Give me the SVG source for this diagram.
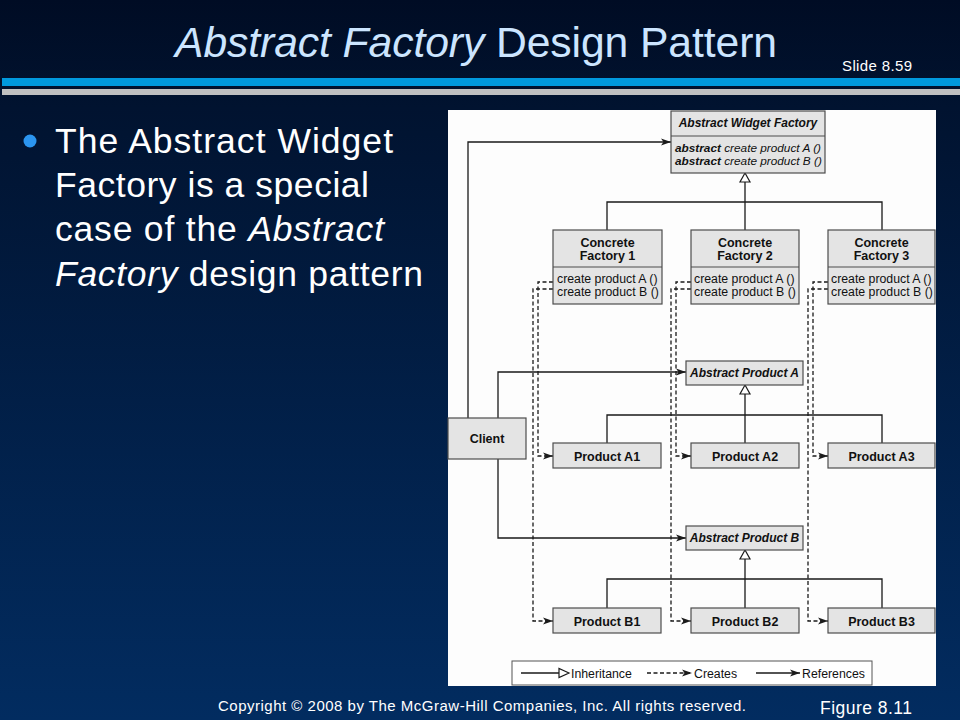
<svg xmlns="http://www.w3.org/2000/svg" width="960" height="720" viewBox="0 0 960 720">
<defs>
<linearGradient id="bg" x1="0" y1="0" x2="0" y2="1">
<stop offset="0" stop-color="#000c24"/>
<stop offset="0.15" stop-color="#011330"/>
<stop offset="1" stop-color="#022c60"/>
</linearGradient>
<marker id="arr" markerUnits="userSpaceOnUse" viewBox="0 0 10 8" refX="10" refY="4" markerWidth="10" markerHeight="8" orient="auto">
<path d="M0,0.5 L10,4 L0,7.5 L2.5,4 z" fill="#1a1a1a"/>
</marker>
<style>
.sans{font-family:"Liberation Sans",Arial,sans-serif}
.box{fill:#e4e4e4;stroke:#4d4d4d;stroke-width:1.2}
.ln{fill:none;stroke:#1a1a1a;stroke-width:1.3}
.dash{fill:none;stroke:#1a1a1a;stroke-width:1.3;stroke-dasharray:4 2.5}
.tri{fill:#ffffff;stroke:#1a1a1a;stroke-width:1.2}
.dt{font-family:"Liberation Sans",Arial,sans-serif;fill:#111}
.hd{font-size:12.5px;font-weight:bold;text-anchor:middle}
.hi{font-size:12px;font-weight:bold;font-style:italic;text-anchor:middle}
.m{font-size:12.3px}
.w{fill:#ffffff}
</style>
</defs>
<rect x="0" y="0" width="960" height="720" fill="url(#bg)"/>
<rect x="2" y="78" width="958" height="8" fill="#0099dd"/>
<rect x="2" y="89" width="958" height="6" fill="#c0c0c0"/>
<text class="sans" x="175" y="57" font-size="42.7" fill="#cce5ff" textLength="602"><tspan font-style="italic">Abstract Factory</tspan> Design Pattern</text>
<text class="sans w" x="842" y="71" font-size="15" textLength="70">Slide 8.59</text>
<circle cx="30" cy="141" r="6.5" fill="#2b95f0"/>
<g class="sans w" font-size="35.5">
<text x="55" y="153" textLength="338">The Abstract Widget</text>
<text x="55" y="197" textLength="314">Factory is a special</text>
<text x="55" y="241" textLength="329">case of the <tspan font-style="italic">Abstract</tspan></text>
<text x="55" y="286" textLength="368"><tspan font-style="italic">Factory</tspan> design pattern</text>
</g>
<rect x="448" y="110" width="488" height="576" fill="#fdfdfd"/>
<g id="connectors">
<polyline class="ln" points="468,418 468,142 671,142" marker-end="url(#arr)"/>
<polyline class="ln" points="498,418 498,372 686,372" marker-end="url(#arr)"/>
<polyline class="ln" points="498,459 498,538 686,538" marker-end="url(#arr)"/>
<polyline class="ln" points="745,182 745,230"/>
<polyline class="ln" points="607,230 607,202 882,202 882,230"/>
<polygon class="tri" points="745,173 740,182 750,182"/>
<polyline class="ln" points="745,394 745,443"/>
<polyline class="ln" points="607,443 607,415 882,415 882,443"/>
<polygon class="tri" points="745,385 740,394 750,394"/>
<polyline class="ln" points="745,559 745,608"/>
<polyline class="ln" points="607,608 607,579 882,579 882,608"/>
<polygon class="tri" points="745,550 740,559 750,559"/>
<polyline class="dash" points="553,282 538,282 538,456 553,456" marker-end="url(#arr)"/>
<polyline class="dash" points="553,289 533,289 533,621 553,621" marker-end="url(#arr)"/>
<polyline class="dash" points="691,282 676,282 676,456 691,456" marker-end="url(#arr)"/>
<polyline class="dash" points="691,289 671,289 671,621 691,621" marker-end="url(#arr)"/>
<polyline class="dash" points="828,282 813,282 813,456 828,456" marker-end="url(#arr)"/>
<polyline class="dash" points="828,289 808,289 808,621 828,621" marker-end="url(#arr)"/>
</g>
<g id="abstract-widget-factory">
<rect class="box" x="671" y="111" width="154" height="62"/>
<line class="box" x1="671" y1="136" x2="825" y2="136"/>
<text class="dt hi" x="748" y="127">Abstract Widget Factory</text>
<text class="dt" x="675" y="152" font-size="11.8"><tspan font-weight="bold" font-style="italic">abstract</tspan><tspan font-style="italic"> create product A ()</tspan></text>
<text class="dt" x="675" y="165" font-size="11.8"><tspan font-weight="bold" font-style="italic">abstract</tspan><tspan font-style="italic"> create product B ()</tspan></text>
</g>
<g id="concrete-factory-1">
<rect class="box" x="553" y="230" width="109" height="74"/>
<line class="box" x1="553" y1="267" x2="662" y2="267"/>
<text class="dt hd" x="607.5" y="246.5">Concrete</text>
<text class="dt hd" x="607.5" y="260">Factory 1</text>
<text class="dt m" x="557" y="283">create product A ()</text>
<text class="dt m" x="557" y="296">create product B ()</text>
</g>
<g id="concrete-factory-2">
<rect class="box" x="691" y="230" width="108" height="74"/>
<line class="box" x1="691" y1="267" x2="799" y2="267"/>
<text class="dt hd" x="745" y="246.5">Concrete</text>
<text class="dt hd" x="745" y="260">Factory 2</text>
<text class="dt m" x="694" y="283">create product A ()</text>
<text class="dt m" x="694" y="296">create product B ()</text>
</g>
<g id="concrete-factory-3">
<rect class="box" x="828" y="230" width="107" height="74"/>
<line class="box" x1="828" y1="267" x2="935" y2="267"/>
<text class="dt hd" x="881.5" y="246.5">Concrete</text>
<text class="dt hd" x="881.5" y="260">Factory 3</text>
<text class="dt m" x="831" y="283">create product A ()</text>
<text class="dt m" x="831" y="296">create product B ()</text>
</g>
<g id="client">
<rect class="box" x="448" y="418" width="78" height="41"/>
<text class="dt hd" x="487" y="443">Client</text>
</g>
<g id="abstract-product-a">
<rect class="box" x="686" y="361" width="117" height="24"/>
<text class="dt hi" x="744.5" y="377">Abstract Product A</text>
</g>
<g id="product-a1">
<rect class="box" x="553" y="443" width="108" height="25"/>
<text class="dt hd" x="607" y="461">Product A1</text>
</g>
<g id="product-a2">
<rect class="box" x="691" y="443" width="108" height="25"/>
<text class="dt hd" x="745" y="461">Product A2</text>
</g>
<g id="product-a3">
<rect class="box" x="828" y="443" width="107" height="25"/>
<text class="dt hd" x="881.5" y="461">Product A3</text>
</g>
<g id="abstract-product-b">
<rect class="box" x="686" y="526" width="117" height="24"/>
<text class="dt hi" x="744.5" y="542">Abstract Product B</text>
</g>
<g id="product-b1">
<rect class="box" x="553" y="608" width="108" height="25"/>
<text class="dt hd" x="607" y="626">Product B1</text>
</g>
<g id="product-b2">
<rect class="box" x="691" y="608" width="108" height="25"/>
<text class="dt hd" x="745" y="626">Product B2</text>
</g>
<g id="product-b3">
<rect class="box" x="828" y="608" width="107" height="25"/>
<text class="dt hd" x="881.5" y="626">Product B3</text>
</g>
<g id="legend">
<rect x="512" y="661" width="360" height="24" fill="#ffffff" stroke="#555" stroke-width="1"/>
<line class="ln" x1="521" y1="673" x2="559" y2="673"/>
<polygon class="tri" points="569,673 559,668.5 559,677.5"/>
<text class="dt m" x="571" y="677.5">Inheritance</text>
<line class="dash" x1="647" y1="673" x2="692" y2="673" marker-end="url(#arr)"/>
<text class="dt m" x="694" y="677.5">Creates</text>
<line class="ln" x1="756" y1="673" x2="800" y2="673" marker-end="url(#arr)"/>
<text class="dt m" x="802" y="677.5">References</text>
</g>
<text class="sans w" x="218" y="711" font-size="15" textLength="528">Copyright © 2008 by The McGraw-Hill Companies, Inc.  All rights reserved.</text>
<text class="sans w" x="820" y="714" font-size="17.5" textLength="92">Figure 8.11</text>
</svg>
